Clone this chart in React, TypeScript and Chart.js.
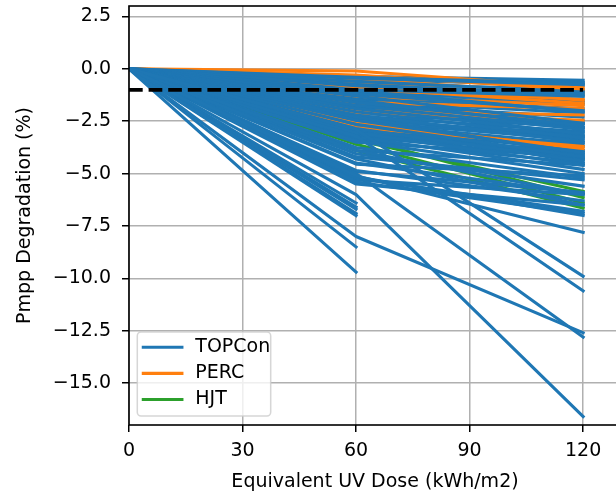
import React, { useEffect, useRef } from "react";
import { Chart, registerables } from "chart.js";

Chart.register(...registerables);

// UV dose steps (kWh/m2) and the starting value at dose 0
const doses = [0, 60, 120];
const startValue = 0;
const threshold = -1;

// Axis ticks
const xTickValues = [0, 30, 60, 90, 120];
const yTickValues = [2.5, 0, -2.5, -5, -7.5, -10, -12.5, -15];

const seriesNames = ["TOPCon", "PERC", "HJT"];
const seriesColors = ["#1f77b4", "#ff7f0e", "#2ca02c"];

// HJT modules (drawn first): Pmpp change at 60 and 120 kWh/m2
const hjt60 = [-3.3, -3.4, -3.9, -3.6, -2.8];
const hjt120 = [-6.15, -5.85, -6.65, -6.4, -4.3];

// TOPCon modules drawn underneath PERC
const topconLow60 = [
  -0.35, -0.5, -0.55, -0.7, -0.9, -1.0, -1.1, -1.25, -1.4, -1.45,
  -1.55, -1.65, -1.7, -1.8, -1.9, -2.0, -2.1, -2.25, -2.35, -2.4,
  -2.5, -2.55, -2.6, -2.7, -2.75, -2.8, -2.9, -3.0, -3.1, -3.15,
  -3.2, -3.3, -3.4, -3.5, -3.9, -4.2, -4.55, -4.9, -5.3, -5.5,
  -6.4, -6.6, -6.7, -6.9, -7.0, -8.5, -9.7,
];
const topconLow120 = [
  -0.55, -0.8, -0.65, -1.0, -1.5, -1.1, -1.6, -1.7, -1.9, -2.6,
  -2.1, -3.2, -2.3, -2.5, -2.8, -2.6, -2.8, -3.0, -3.3, -3.2,
  -3.4, -4.5, -3.6, -3.0, -4.3, -3.9, -3.7, -4.1, -3.5, -4.0,
  -4.3, -3.9, -4.5, -4.2, -4.6, -5.3, -5.1, -5.9, -6.0, -6.5,
  null, null, null, null, null, null, null,
];

// PERC modules
const perc60 = [-0.1, -0.3, -0.6, -0.9, -1.3, -1.6, -2.0, -2.1, -2.6, -2.8, -0.5, -1.0];
const perc120 = [-0.9, -1.0, -1.5, -1.65, -1.75, -1.9, -2.2, -2.45, -3.8, -3.7, -1.2, -1.45];

// TOPCon modules drawn last (on top)
const topconHigh60 = [
  -0.4, -0.45, -0.6, -0.75, -0.8, -1.0, -1.05, -1.2, -1.3, -1.5,
  -1.6, -1.75, -1.9, -2.05, -2.2, -2.3, -2.45, -2.65, -2.85, -3.05,
  -3.25, -3.45, -3.75, -4.05, -4.5, -4.85, -5.2, -5.4, -5.15, -4.3,
  -3.9, -6.0, -8.0, -5.0, -3.2, -2.9, -5.1,
];
const topconHigh120 = [
  -0.7, -0.75, -1.1, -1.3, -1.2, -1.3, -2.05, -2.0, -2.6, -2.8,
  -2.7, -2.9, -3.1, -3.3, -3.5, -4.1, -4.0, -4.2, -4.4, -4.6,
  -4.8, -5.0, -5.2, -5.6, -5.95, -6.3, -6.8, -6.9, -7.0, -6.5,
  -6.0, -16.6, -12.6, -12.8, -10.6, -9.9, -7.8,
];

const FONT = "DejaVu Sans";
const FONT_SIZE = 19;
const LINE_WIDTH = 3.1;

function modulePoints(v60: number, v120: number | null) {
  const pts = [
    { x: doses[0], y: startValue },
    { x: doses[1], y: v60 },
  ];
  if (v120 !== null) pts.push({ x: doses[2], y: v120 });
  return pts;
}

function moduleSets(series: number, a60: number[], a120: (number | null)[]) {
  return a60.map((v, i) => ({
    label: seriesNames[series],
    data: modulePoints(v, a120[i]),
    borderColor: seriesColors[series],
    backgroundColor: seriesColors[series],
    borderWidth: LINE_WIDTH,
    borderJoinStyle: "round" as const,
    borderCapStyle: "square" as const,
    pointRadius: 0,
    tension: 0,
    fill: false,
  }));
}

// Spines on top of the lines, then the framed legend
const framePlugin = {
  id: "frameAndLegend",
  afterDraw(chart: any) {
    const { ctx, chartArea: a } = chart;
    ctx.save();
    ctx.strokeStyle = "#000";
    ctx.lineWidth = 1.6;
    ctx.strokeRect(a.left, a.top, a.right - a.left, a.bottom - a.top);

    // legend box
    const bx = a.left + 8.3;
    const bw = 133.4;
    const bh = 84;
    const by = a.bottom - 9 - bh;
    const r = 3.8;
    ctx.beginPath();
    ctx.moveTo(bx + r, by);
    ctx.lineTo(bx + bw - r, by);
    ctx.arcTo(bx + bw, by, bx + bw, by + r, r);
    ctx.lineTo(bx + bw, by + bh - r);
    ctx.arcTo(bx + bw, by + bh, bx + bw - r, by + bh, r);
    ctx.lineTo(bx + r, by + bh);
    ctx.arcTo(bx, by + bh, bx, by + bh - r, r);
    ctx.lineTo(bx, by + r);
    ctx.arcTo(bx, by, bx + r, by, r);
    ctx.closePath();
    ctx.fillStyle = "rgba(255,255,255,0.8)";
    ctx.fill();
    ctx.strokeStyle = "rgba(204,204,204,0.8)";
    ctx.lineWidth = 1.5;
    ctx.stroke();

    ctx.font = `${FONT_SIZE}px "${FONT}"`;
    ctx.textBaseline = "middle";
    ctx.textAlign = "left";
    seriesNames.forEach((name, i) => {
      const ry = by + 15.3 + i * 26.1;
      ctx.beginPath();
      ctx.moveTo(bx + 6, ry);
      ctx.lineTo(bx + 44.6, ry);
      ctx.strokeStyle = seriesColors[i];
      ctx.lineWidth = LINE_WIDTH;
      ctx.lineCap = "square";
      ctx.stroke();
      ctx.fillStyle = "#000";
      ctx.fillText(name, bx + 58, ry);
    });
    ctx.restore();
  },
};

function formatY(v: number) {
  return v.toFixed(1).replace("-", "\u2212");
}

function noEdgePadding(s: any) {
  s.paddingTop = 0;
  s.paddingBottom = 0;
  s.paddingLeft = 0;
  s.paddingRight = 0;
}

export default function App() {
  const canvasRef = useRef<HTMLCanvasElement>(null);

  useEffect(() => {
    if (!canvasRef.current) return;
    const lines = [
      ...moduleSets(2, hjt60, hjt120),
      ...moduleSets(0, topconLow60, topconLow120),
      ...moduleSets(1, perc60, perc120),
      ...moduleSets(0, topconHigh60, topconHigh120),
    ];
    // later entries are painted over earlier ones
    const ordered = lines.map((d, i) => ({ ...d, order: lines.length - i }));
    const thresholdLine = {
      label: "threshold",
      data: [
        { x: doses[0], y: threshold },
        { x: doses[2], y: threshold },
      ],
      borderColor: "#000",
      borderWidth: 3.7,
      borderDash: [13.7, 5.9],
      pointRadius: 0,
      fill: false,
      order: -1,
    };

    const chart = new Chart(canvasRef.current, {
      type: "line",
      data: { datasets: [...ordered, thresholdLine] as any },
      options: {
        responsive: false,
        animation: false,
        layout: { padding: { top: 6, right: 19, left: 0, bottom: 0 } },
        plugins: { legend: { display: false }, tooltip: { enabled: false } },
        scales: {
          x: {
            type: "linear",
            min: 0,
            max: 130,
            afterFit: (s: any) => {
              s.height = 68;
              noEdgePadding(s);
            },
            afterBuildTicks: (s: any) => {
              s.ticks = xTickValues.map((v) => ({ value: v }));
            },
            grid: {
              color: "#b0b0b0",
              lineWidth: 1.5,
              tickColor: "#000",
              tickLength: 7,
              tickWidth: 1.5,
            },
            border: { display: false },
            ticks: {
              color: "#000",
              padding: 8,
              maxRotation: 0,
              font: { family: FONT, size: FONT_SIZE },
              callback: (v: any) => String(v),
            },
            title: {
              display: true,
              text: "Equivalent UV Dose (kWh/m2)",
              color: "#000",
              font: { family: FONT, size: FONT_SIZE },
              padding: { top: 0, bottom: 0 },
            },
          },
          y: {
            type: "linear",
            min: -17,
            max: 3,
            afterFit: (s: any) => {
              s.width = 129;
              noEdgePadding(s);
            },
            afterBuildTicks: (s: any) => {
              s.ticks = yTickValues.map((v) => ({ value: v }));
            },
            grid: {
              color: "#b0b0b0",
              lineWidth: 1.5,
              tickColor: "#000",
              tickLength: 7,
              tickWidth: 1.5,
            },
            border: { display: false },
            ticks: {
              color: "#000",
              padding: 11,
              font: { family: FONT, size: FONT_SIZE },
              callback: (v: any) => formatY(Number(v)),
            },
            title: {
              display: true,
              text: "Pmpp Degradation (%)",
              color: "#000",
              font: { family: FONT, size: FONT_SIZE },
              padding: { top: 13.4, bottom: 0 },
            },
          },
        },
      },
      plugins: [framePlugin],
    });
    return () => chart.destroy();
  }, []);

  return (
    <div
      style={{
        position: "fixed",
        left: 0,
        top: 0,
        width: 616,
        height: 493,
        overflow: "hidden",
        background: "#fff",
      }}
    >
      <canvas ref={canvasRef} width={640} height={493} style={{ display: "block" }} />
    </div>
  );
}
